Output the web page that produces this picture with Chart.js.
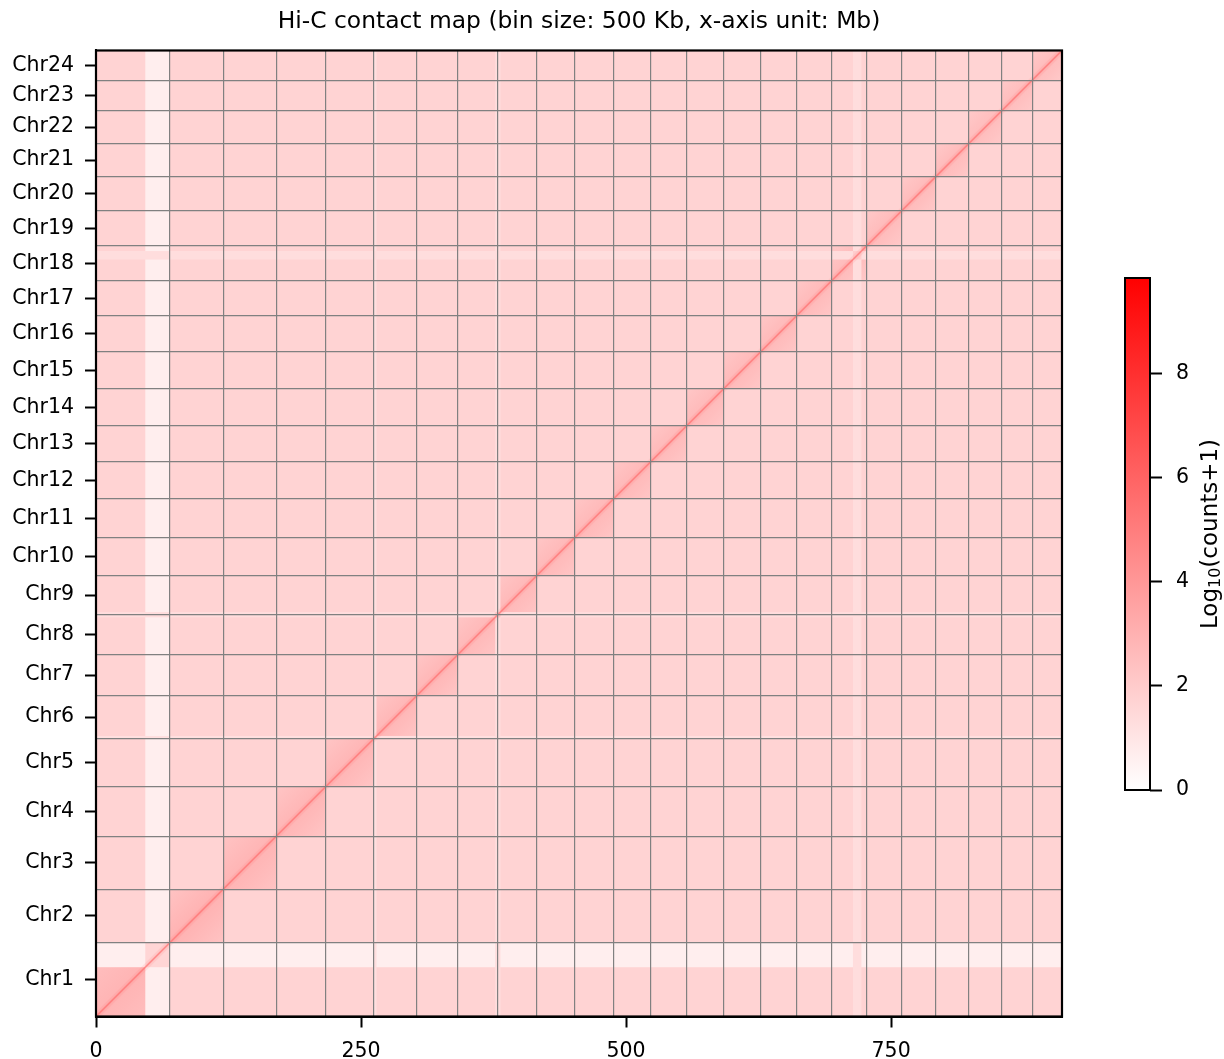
<!DOCTYPE html>
<html><head><meta charset="utf-8">
<script src="https://cdn.jsdelivr.net/npm/chart.js@4.4.1/dist/chart.umd.min.js"></script>
<style>
html,body{margin:0;padding:0;background:#fff;overflow:hidden;width:1224px;height:1059px}
#main{position:absolute;left:0;top:0}
#cbar{position:absolute;left:1090px;top:250px}
</style></head><body>
<canvas id="main" width="1224" height="1059"></canvas>
<canvas id="cbar" width="134" height="580"></canvas>
<script>
// ---------------- data ----------------
const chromNames = ['Chr1','Chr2','Chr3','Chr4','Chr5','Chr6','Chr7','Chr8','Chr9','Chr10','Chr11','Chr12',
  'Chr13','Chr14','Chr15','Chr16','Chr17','Chr18','Chr19','Chr20','Chr21','Chr22','Chr23','Chr24'];
const chromSizesMb = [69.7, 50.2, 50.0, 47.1, 45.2, 40.5, 38.7, 37.7, 36.7, 35.8, 36.8, 34.8,
  33.9, 34.9, 34.9, 33.9, 33.0, 32.9, 33.0, 32.4, 31.4, 30.8, 28.9, 28.0];
// log10(counts+1) of each intra-chromosomal block: near the diagonal and at the far corner
const intraDiagValues = [2.90, 2.95, 2.90, 2.85, 2.85, 2.80, 2.80, 2.75, 2.75, 2.75, 2.75, 2.75,
  2.70, 2.70, 2.70, 2.70, 2.70, 2.65, 2.65, 2.65, 2.65, 2.60, 2.60, 2.60];
const intraEdgeValues = [2.35, 2.30, 2.30, 2.25, 2.25, 2.20, 2.20, 2.20, 2.20, 2.20, 2.20, 2.20,
  2.15, 2.15, 2.15, 2.15, 2.15, 2.10, 2.10, 2.10, 2.10, 2.10, 2.10, 2.10];
// typical inter-chromosomal value
const interValue = 1.70;
// low-coverage regions (Mb, genome coordinates): row/column value and value inside its own square
const weakStart = [46.5, 262.2, 376.5, 714.0];
const weakEnd   = [69.7, 264.6, 381.5, 722.0];
const weakValue = [0.65, 1.25, 1.30, 1.30];
const weakSelf  = [1.60, 1.80, 1.90, 1.90];
// axis ticks
const xTickValues = [0, 250, 500, 750];
const colorMax = 9.83;
const cbTickValues = [0, 2, 4, 6, 8];

// ---------------- derived ----------------
const cum = [0];
chromSizesMb.forEach(s => cum.push(cum[cum.length - 1] + s));
const total = cum[cum.length - 1];
const mids = chromSizesMb.map((s, i) => cum[i] + s / 2);
const inner = cum.slice(1, -1);
const diagPts = cum.map(v => ({x: v, y: v}));

function cmap(v) {
  const t = Math.max(0, Math.min(1, v / colorMax));
  const g = Math.round(255 * (1 - t));
  return `rgb(255,${g},${g})`;
}

Chart.defaults.font.family = "'DejaVu Sans', sans-serif";
Chart.defaults.color = '#000';

const FS = 20.5;

const heatPlugin = {
  id: 'heat',
  beforeDatasetsDraw(chart) {
    const {ctx, chartArea: a, scales: {x, y}} = chart;
    ctx.save();
    ctx.beginPath(); ctx.rect(a.left, a.top, a.width, a.height); ctx.clip();
    const box = (x0, x1, y0, y1) => {
      const px0 = x.getPixelForValue(x0), px1 = x.getPixelForValue(x1);
      const py0 = y.getPixelForValue(y0), py1 = y.getPixelForValue(y1);
      return [Math.min(px0, px1), Math.min(py0, py1), Math.abs(px1 - px0), Math.abs(py1 - py0)];
    };
    const rect = (x0, x1, y0, y1, v) => {
      ctx.fillStyle = cmap(v);
      ctx.fillRect(...box(x0, x1, y0, y1));
    };
    rect(0, total, 0, total, interValue);
    chromSizesMb.forEach((s, i) => {
      const [bx, by, bw, bh] = box(cum[i], cum[i + 1], cum[i], cum[i + 1]);
      // gradient across the block, perpendicular to the diagonal
      const g = ctx.createLinearGradient(bx, by, bx + bw, by + bh);
      g.addColorStop(0, cmap(intraEdgeValues[i]));
      g.addColorStop(0.5, cmap(intraDiagValues[i]));
      g.addColorStop(1, cmap(intraEdgeValues[i]));
      ctx.fillStyle = g;
      ctx.fillRect(bx, by, bw, bh);
    });
    weakStart.forEach((s, i) => {
      rect(s, weakEnd[i], 0, total, weakValue[i]);
      rect(0, total, s, weakEnd[i], weakValue[i]);
      rect(s, weakEnd[i], s, weakEnd[i], weakSelf[i]);
    });
    ctx.restore();
  },
  afterDraw(chart) {
    const {ctx, chartArea: a} = chart;
    ctx.save();
    ctx.strokeStyle = '#000'; ctx.lineWidth = 2.2;
    ctx.strokeRect(a.left, a.top, a.width, a.height);
    ctx.restore();
  }
};

new Chart(document.getElementById('main'), {
  type: 'scatter',
  data: {
    datasets: [
      {data: diagPts, showLine: true, pointRadius: 0, borderColor: 'rgba(255,120,120,0.14)', borderWidth: 6},
      {data: diagPts, showLine: true, pointRadius: 0, borderColor: 'rgba(255,105,105,0.62)', borderWidth: 1.8}
    ]
  },
  options: {
    responsive: false, animation: false, events: [],
    layout: {padding: {left: 0, right: 162, top: 0, bottom: 0}},
    plugins: {
      legend: {display: false}, tooltip: {enabled: false},
      title: {display: true, fullSize: false, text: 'Hi-C contact map (bin size: 500 Kb, x-axis unit: Mb)',
        font: {size: 23.4, weight: 'normal'}, color: '#000', padding: {top: 8, bottom: 14.4}}
    },
    scales: {
      x: {
        type: 'linear', position: 'bottom', min: 0, max: total,
        afterBuildTicks: s => { s.ticks = xTickValues.map(v => ({value: v})); },
        afterFit: s => { s.height = 42.5; },
        ticks: {font: {size: FS}, color: '#000', padding: 12, maxRotation: 0, autoSkip: false},
        grid: {drawOnChartArea: false, drawTicks: true, tickLength: 11, tickColor: '#000', tickWidth: 2},
        border: {display: true, color: '#000', width: 2}
      },
      y: {
        type: 'linear', position: 'left', min: 0, max: total,
        afterBuildTicks: s => { s.ticks = mids.map(v => ({value: v})); },
        afterFit: s => { s.width = 96; },
        ticks: {font: {size: FS}, color: '#000', padding: 11, autoSkip: false,
          callback: (v, i) => chromNames[i]},
        grid: {drawOnChartArea: false, drawTicks: true, tickLength: 11, tickColor: '#000', tickWidth: 2},
        border: {display: true, color: '#000', width: 2}
      },
      xg: {
        type: 'linear', position: 'top', min: 0, max: total,
        afterBuildTicks: s => { s.ticks = inner.map(v => ({value: v})); },
        afterFit: s => { s.height = 0; },
        ticks: {display: false},
        grid: {display: true, z: 1, drawTicks: false, color: '#808080', lineWidth: 1.2},
        border: {display: false}
      },
      yg: {
        type: 'linear', position: 'right', min: 0, max: total,
        afterBuildTicks: s => { s.ticks = inner.map(v => ({value: v})); },
        afterFit: s => { s.width = 0; },
        ticks: {display: false},
        grid: {display: true, z: 1, drawTicks: false, color: '#808080', lineWidth: 1.2},
        border: {display: false}
      }
    }
  },
  plugins: [heatPlugin]
});

// ---------------- colour bar ----------------
const cbarPlugin = {
  id: 'cbarFill',
  beforeDatasetsDraw(chart) {
    const {ctx, chartArea: a, scales: {y}} = chart;
    const p0 = y.getPixelForValue(0), p1 = y.getPixelForValue(colorMax);
    const g = ctx.createLinearGradient(0, p0, 0, p1);
    g.addColorStop(0, cmap(0));
    g.addColorStop(1, cmap(colorMax));
    ctx.save();
    ctx.fillStyle = g;
    ctx.fillRect(a.left, p1, a.width, p0 - p1);
    ctx.restore();
  },
  afterDraw(chart) {
    const {ctx, chartArea: a} = chart;
    ctx.save();
    ctx.strokeStyle = '#000'; ctx.lineWidth = 2;
    ctx.strokeRect(a.left, a.top, a.width, a.height);
    // axis label, bottom-to-top
    const cx = 121, cy = (a.top + a.bottom) / 2;
    ctx.translate(cx, cy); ctx.rotate(-Math.PI / 2);
    ctx.fillStyle = '#000'; ctx.textBaseline = 'middle';
    const big = "23px 'DejaVu Sans'", small = "16px 'DejaVu Sans'";
    ctx.font = big; const w1 = ctx.measureText('Log').width, w3 = ctx.measureText('(counts+1)').width;
    ctx.font = small; const w2 = ctx.measureText('10').width;
    let xs = -(w1 + w2 + w3) / 2;
    ctx.font = big; ctx.textAlign = 'left'; ctx.fillText('Log', xs, 0); xs += w1;
    ctx.font = small; ctx.fillText('10', xs, 5); xs += w2;
    ctx.font = big; ctx.fillText('(counts+1)', xs, 0);
    ctx.restore();
  }
};

new Chart(document.getElementById('cbar'), {
  type: 'scatter',
  data: {datasets: []},
  options: {
    responsive: false, animation: false, events: [],
    layout: {padding: {left: 35, right: 0, top: 28, bottom: 40}},
    plugins: {legend: {display: false}, tooltip: {enabled: false}},
    scales: {
      x: {display: false, min: 0, max: 1},
      y: {
        type: 'linear', position: 'right', min: 0, max: colorMax,
        afterBuildTicks: s => { s.ticks = cbTickValues.map(v => ({value: v})); },
        afterFit: s => { s.width = 74; },
        ticks: {font: {size: FS}, color: '#000', padding: 14},
        grid: {drawOnChartArea: false, drawTicks: true, tickLength: 12, tickColor: '#000', tickWidth: 2},
        border: {display: false}
      }
    }
  },
  plugins: [cbarPlugin]
});
</script>
</body></html>
